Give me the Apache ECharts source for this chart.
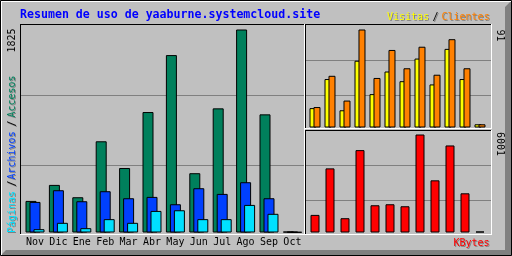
<!DOCTYPE html>
<html><head><meta charset="utf-8">
<script src="https://cdn.jsdelivr.net/npm/echarts@6/dist/echarts.min.js"></script>
<style>html,body{margin:0;padding:0;background:#C0C0C0}#c{width:512px;height:256px}</style>
</head><body><div id="c"></div>
<script>
// ---- data ----
const months = ['Nov','Dic','Ene','Feb','Mar','Abr','May','Jun','Jul','Ago','Sep','Oct'];
const accesos  = [284, 428, 317, 820, 580, 1083, 1595, 533, 1116, 1825, 1062, 8];
const archivos = [275, 380, 281, 371, 308, 320, 254, 398, 347, 452, 308, 6];
const paginas  = [30, 87, 39, 120, 87, 194, 200, 120, 120, 248, 168, 4];
const visitas  = [18, 45, 16, 62, 31, 52, 43, 64, 40, 73, 45, 3];
const clientes = [19, 48, 25, 91, 46, 72, 55, 75, 49, 82, 55, 3];
const kbytes   = [1078, 3926, 875, 5045, 1668, 1729, 1607, 6001, 3194, 5330, 2400, 60];
const titleText = 'Resumen de uso de yaaburne.systemcloud.site';
const maxHits = Math.max(...accesos);
const maxVS = Math.max(...visitas, ...clientes);
const maxKB = Math.max(...kbytes);

// ---- colours ----
const C = {bg:'#C0C0C0', dk:'#808080', hit:'#00805C', file:'#0040FF', page:'#00E0FF',
           visit:'#FFFF00', site:'#FF8000', kb:'#FF0000', title:'#0000FF'};
const FONT = '10px "DejaVu Sans Mono"';

function text(s, x, y, fill, o) {
  o = o || {};
  return {type:'text', x:x, y:y, rotation:o.rot||0, z:100, silent:true,
    style:{text:s, fill:fill, font:o.font||FONT,
      align:o.align||'left', textAlign:o.align||'left',
      verticalAlign:'middle', textVerticalAlign:'middle'}};
}
function stext(s, x, y, fill, o) {
  o = o || {};
  const r = o.rot || 0;
  return [text(s, x+1, y+1, C.dk, o), text(s, x, y, fill, o)];
}
function hline(x1, x2, y, c) { return {type:'line', z:90, silent:true, shape:{x1:x1, y1:y+0.5, x2:x2+1, y2:y+0.5}, style:{stroke:c, lineWidth:1}}; }
function vline(x, y1, y2, c) { return {type:'line', z:90, silent:true, shape:{x1:x+0.5, y1:y1, x2:x+0.5, y2:y2+1}, style:{stroke:c, lineWidth:1}}; }

const graphics = [
  // 3D outer border
  {type:'polygon', z:80, silent:true, shape:{points:[[511,1],[511,255],[1,255],[6,250],[505,250],[505,7]]}, style:{fill:C.dk}},
  hline(1, 510, 1, '#FFFFFF'), vline(1, 1, 254, '#FFFFFF'),
  {type:'rect', z:95, silent:true, shape:{x:0.5, y:0.5, width:511, height:255}, style:{fill:null, stroke:'#000', lineWidth:1}},
  // main panel frame
  hline(20, 304, 24, '#000'), vline(20, 24, 234, '#000'),
  vline(304, 24, 234, '#FFFFFF'), hline(20, 304, 234, '#FFFFFF'),
  // top-right panel
  hline(305, 491, 24, '#000'), vline(305, 24, 128, '#000'),
  vline(491, 24, 128, '#FFFFFF'), hline(305, 491, 128, '#FFFFFF'),
  // bottom-right panel
  hline(305, 491, 130, '#000'), vline(305, 130, 234, '#000'),
  vline(491, 130, 234, '#FFFFFF'), hline(305, 491, 234, '#FFFFFF'),
  // texts
  text(titleText, 20, 15.3, C.title, {font:'bold 11.6px "DejaVu Sans Mono"'}),
  ...stext('Visitas', 387, 17.8, C.visit),
  ...stext('/', 435.5, 17.8, '#000', {align:'center'}),
  ...stext('Clientes', 441.5, 17.8, C.site),
  ...stext('KBytes', 489.5, 243, C.kb, {align:'right'}),
  text(String(maxHits), 12.5, 28.5, '#000', {rot:Math.PI/2, align:'right'}),
  text(String(maxVS), 499.5, 29.5, '#000', {rot:-Math.PI/2}),
  text(String(maxKB), 499.5, 132, '#000', {rot:-Math.PI/2}),
  ...stext('Páginas', 12.5, 233, C.page, {rot:Math.PI/2}),
  ...stext('/', 12.5, 183.5, '#000', {rot:Math.PI/2, align:'center'}),
  ...stext('Archivos', 12.5, 179.5, C.file, {rot:Math.PI/2}),
  ...stext('/', 12.5, 123.5, '#000', {rot:Math.PI/2, align:'center'}),
  ...stext('Accesos', 12.5, 117.5, C.hit, {rot:Math.PI/2})
];

const splitGrid = {show:true, showMinLine:false, showMaxLine:false, lineStyle:{color:C.dk, width:1}};
function decoX(i){ return {type:'value', gridIndex:i, show:false, min:0, max:1}; }
function decoY(i){ return {type:'value', gridIndex:i, min:0, max:3, interval:1, axisLine:{show:false}, axisTick:{show:false}, axisLabel:{show:false}, splitLine:splitGrid}; }
function catX(i, lab){ return {type:'category', gridIndex:i, data:months, boundaryGap:true,
  axisLine:{show:false}, axisTick:{show:false},
  axisLabel:{show:lab, interval:0, margin:5, color:'#000', fontFamily:'DejaVu Sans Mono', fontSize:10}}; }
function valY(i, max){ return {type:'value', gridIndex:i, min:0, max:max, axisLine:{show:false}, axisTick:{show:false}, axisLabel:{show:false}, splitLine:{show:false}}; }
const bs = {borderColor:'#000', borderWidth:1};

const option = {
  animation:false,
  backgroundColor:C.bg,
  grid:[
    {left:23.3, top:29.5, width:280.8, height:203},   // main bars
    {left:307.5, top:29.5, width:180, height:98},     // visits / sites
    {left:307.5, top:134.5, width:180, height:98},    // kbytes
    {left:21, top:25, width:283, height:210},         // grid lines main
    {left:306, top:25, width:185, height:105},        // grid lines TR
    {left:306, top:130, width:185, height:105}        // grid lines BR
  ],
  xAxis:[catX(0,true), catX(1,false), catX(2,false), decoX(3), decoX(4), decoX(5)],
  yAxis:[valY(0,maxHits), valY(1,maxVS), valY(2,maxKB), decoY(3), decoY(4), decoY(5)],
  series:[
    {type:'bar', name:'Accesos', xAxisIndex:0, yAxisIndex:0, data:accesos, barWidth:11, barGap:'-63.64%', itemStyle:Object.assign({color:C.hit}, bs)},
    {type:'bar', name:'Archivos', xAxisIndex:0, yAxisIndex:0, data:archivos, barWidth:11, barGap:'-63.64%', itemStyle:Object.assign({color:C.file}, bs)},
    {type:'bar', name:'Páginas', xAxisIndex:0, yAxisIndex:0, data:paginas, barWidth:11, barGap:'-63.64%', itemStyle:Object.assign({color:C.page}, bs)},
    {type:'bar', name:'Visitas', xAxisIndex:1, yAxisIndex:1, data:visitas, barWidth:7, barGap:'-42.86%', itemStyle:Object.assign({color:C.visit}, bs)},
    {type:'bar', name:'Clientes', xAxisIndex:1, yAxisIndex:1, data:clientes, barWidth:7, barGap:'-42.86%', itemStyle:Object.assign({color:C.site}, bs)},
    {type:'bar', name:'KBytes', xAxisIndex:2, yAxisIndex:2, data:kbytes, barWidth:9, itemStyle:Object.assign({color:C.kb}, bs)}
  ],
  graphic:{elements:graphics}
};
const chart = echarts.init(document.getElementById('c'), null, {renderer:'canvas'});
chart.setOption(option);
</script></body></html>
